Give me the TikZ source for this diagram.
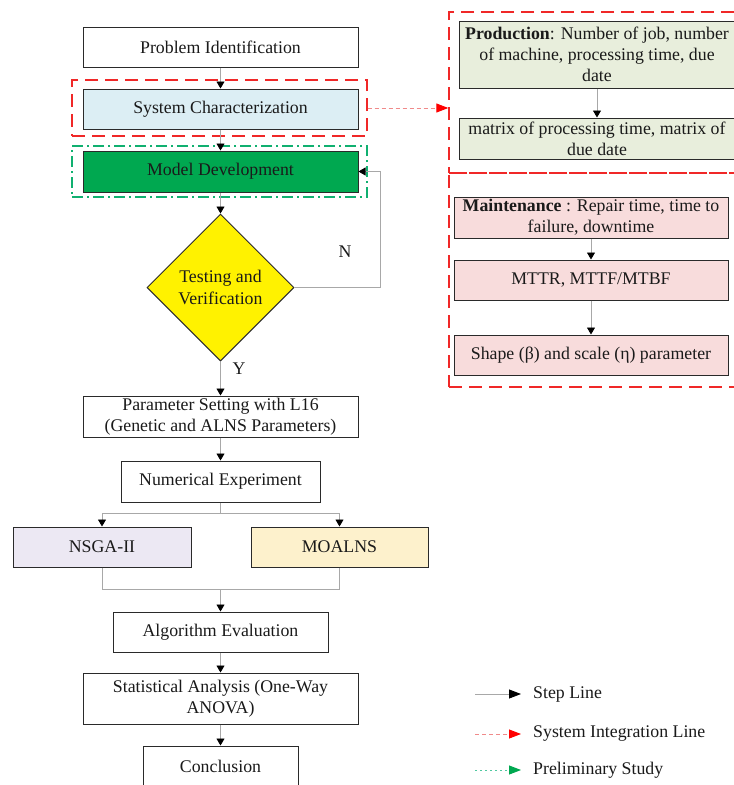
\documentclass[tikz,border=0pt]{standalone}
\usepackage{fontspec}
\setmainfont{Liberation Serif}
\usetikzlibrary{arrows.meta,shapes.geometric}
\definecolor{txt}{HTML}{1A1A1A}
\definecolor{edge}{HTML}{A8A8A8}
\definecolor{boxline}{HTML}{2A2A2A}
\definecolor{sysblue}{HTML}{DCEEF4}
\definecolor{mdgreen}{HTML}{00A850}
\definecolor{prodgreen}{HTML}{E8EEDC}
\definecolor{maintpink}{HTML}{F8DCDC}
\definecolor{nsgafill}{HTML}{ECE8F3}
\definecolor{moafill}{HTML}{FDF1CC}
\definecolor{dashred}{HTML}{F02828}
\definecolor{dashgreen}{HTML}{10B070}
\definecolor{lightred}{HTML}{F08A8A}
\definecolor{lightgreen}{HTML}{50C8A0}
\begin{document}
\begin{tikzpicture}[x=1pt,y=-1pt,
  every node/.style={font=\fontsize{17.8}{21.3}\selectfont, text=txt},
  stepbox/.style={draw=boxline, line width=1pt, rectangle, inner sep=0pt, align=center},
  plain/.style={draw=edge, line width=0.9pt},
  line/.style={plain, -{Triangle[color=black,length=7pt,width=8pt]}},
  redframe/.style={draw=dashred, line width=1.4pt, dash pattern=on 13pt off 7pt, rectangle, inner sep=0pt},
  greenframe/.style={draw=dashgreen, line width=1.4pt, dash pattern=on 11pt off 4pt on 2pt off 4pt, rectangle, inner sep=0pt},
  redarrow/.style={draw=lightred, line width=0.9pt, dash pattern=on 4pt off 3pt, -{Triangle[color=red,length=12pt,width=9pt]}},
  greenarrow/.style={draw=lightgreen, line width=0.9pt, dash pattern=on 2pt off 3pt, -{Triangle[color=mdgreen,length=12pt,width=9pt]}},
  legline/.style={plain, -{Triangle[color=black,length=12pt,width=9pt]}}
]
\useasboundingbox (0,0) rectangle (734,785);
\clip (0,0) rectangle (734,785);
\fill[white] (0,0) rectangle (734,785);

% frames
\node[redframe, minimum width=295pt, minimum height=56pt] (scframe) at (219.5,108) {};
\node[greenframe, minimum width=295pt, minimum height=51pt] (mdframe) at (219.5,171.5) {};
\node[redframe, minimum width=292pt, minimum height=161pt] (rtop) at (595,92.5) {};
\node[redframe, minimum width=292pt, minimum height=214pt] (rbot) at (595,280) {};

% left column
\node[stepbox, fill=white, minimum width=275pt, minimum height=40pt] (pi) at (220.5,47) {Problem Identification};
\node[stepbox, fill=sysblue, minimum width=275pt, minimum height=40pt] (sc) at (220.5,109) {System Characterization};
\node[stepbox, fill=mdgreen, minimum width=275pt, minimum height=41pt] (md) at (220.5,171.5) {Model Development};
\node[diamond, draw=boxline, line width=1pt, fill=yellow, aspect=1, inner sep=0pt, minimum width=147pt, minimum height=147pt, align=center] (tv) at (220.5,287.5) {Testing and\\Verification};
\node[stepbox, fill=white, minimum width=275pt, minimum height=41pt] (ps) at (220.5,416.5) {Parameter Setting with L16\\(Genetic and ALNS Parameters)};
\node[stepbox, fill=white, minimum width=199pt, minimum height=41pt] (ne) at (220.5,481.5) {Numerical Experiment};
\node[stepbox, fill=nsgafill, minimum width=178pt, minimum height=40pt] (ns) at (102,547) {NSGA-II};
\node[stepbox, fill=moafill, minimum width=177pt, minimum height=40pt] (mo) at (339.5,547) {MOALNS};
\node[stepbox, fill=white, minimum width=215pt, minimum height=40pt] (ae) at (220.5,632) {Algorithm Evaluation};
\node[stepbox, fill=white, minimum width=275pt, minimum height=51pt] (sa) at (220.5,698.5) {Statistical Analysis (One-Way\\ANOVA)};
\node[stepbox, fill=white, minimum width=155pt, minimum height=50pt] (co) at (220.5,771) {};
\node at (220.5,766) {Conclusion};

% right column
\node[stepbox, fill=prodgreen, minimum width=276pt, minimum height=67pt] (pr) at (597,54.5) {\textbf{Production}: Number of job, number\\of machine, processing time, due\\date};
\node[stepbox, fill=prodgreen, minimum width=276pt, minimum height=41pt] (mx) at (597,138.5) {matrix of processing time, matrix of\\due date};
\node[stepbox, fill=maintpink, minimum width=274pt, minimum height=41pt] (mt) at (591,217.5) {\textbf{Maintenance} : Repair time, time to\\failure, downtime};
\node[stepbox, fill=maintpink, minimum width=274pt, minimum height=40pt] (mm) at (591,280) {MTTR, MTTF/MTBF};
\node[stepbox, fill=maintpink, minimum width=274pt, minimum height=40pt] (sh) at (591,355) {Shape (β) and scale (η) parameter};

% connectors
\draw[line] (pi) -- (sc);
\draw[line] (sc) -- (md);
\draw[line] (md) -- (tv);
\coordinate (nloop) at (380,287.5);
\draw[line] (tv.east) -- (nloop) |- (md.east);
\node at (345,252) {N};
\draw[line] (tv) -- (ps);
\node at (239,369) {Y};
\draw[line] (ps) -- (ne);
\coordinate (split) at (220.5,513);
\draw[plain] (ne) -- (split);
\draw[line] (split) -| (ns.north);
\draw[line] (split) -| (mo.north);
\coordinate (merge) at (220.5,589);
\draw[plain] (ns.south) |- (merge);
\draw[plain] (mo.south) |- (merge);
\draw[line] (merge) -- (ae);
\draw[line] (ae) -- (sa);
\draw[line] (sa) -- (co);

\draw[line] (pr) -- (mx);
\draw[line] (mt) -- (mm);
\draw[line] (mm) -- (sh);

\draw[redarrow] (scframe.east) -- (scframe.east -| rtop.west);

% legend
\coordinate (l1a) at (475,694); \coordinate (l1b) at (521,694);
\coordinate (l2a) at (475,734); \coordinate (l2b) at (521,734);
\coordinate (l3a) at (475,770); \coordinate (l3b) at (521,770);
\draw[legline] (l1a) -- (l1b);
\draw[redarrow] (l2a) -- (l2b);
\draw[greenarrow] (l3a) -- (l3b);
\node[anchor=west, inner sep=0pt] (t1) at (533,694) {Step Line};
\node[anchor=west, inner sep=0pt] (t2) at (533,734) {System Integration Line};
\node[anchor=west, inner sep=0pt] (t3) at (533,770) {Preliminary Study};
\end{tikzpicture}
\end{document}
